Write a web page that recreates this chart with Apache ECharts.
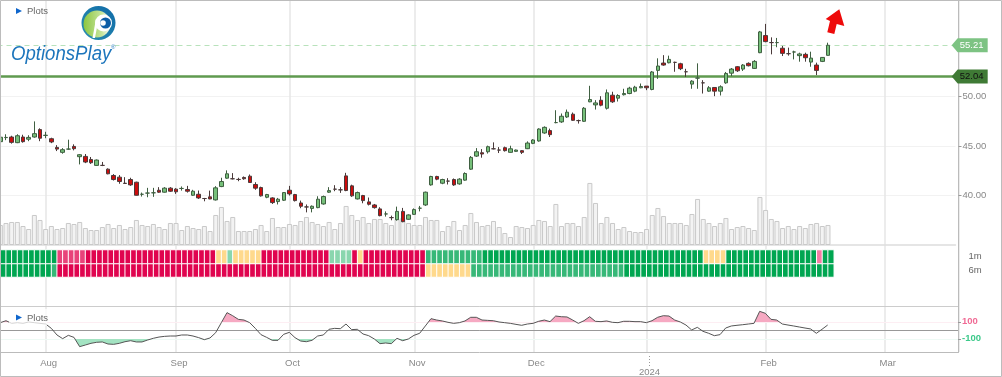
<!DOCTYPE html>
<html>
<head>
<meta charset="utf-8">
<title>OptionsPlay chart</title>
<script src="https://cdn.jsdelivr.net/npm/echarts@6/dist/echarts.min.js"></script>
<style>
  html, body { margin: 0; padding: 0; background: #fff; }
  #chart { width: 1002px; height: 377px; }
</style>
</head>
<body>
<div id="chart"></div>
<script>
// month ticks, as bar slots on the lower axis
var monthSlots = [8, 31, 51, 73, 94, 114, 135, 156];
var monthLabels = ['Aug', 'Sep', 'Oct', 'Nov', 'Dec', '2024', 'Feb', 'Mar'];

// candles: open, close, low, high
var candles = [
  [45.45,45.9,45.35,46.0],[45.86,45.88,45.6,46.2],[45.92,45.38,45.25,46.05],[45.35,46.05,45.3,46.2],[45.92,45.45,45.35,46.15],
  [45.7,45.88,45.5,46.1],[45.92,46.26,45.85,47.5],[46.67,45.8,45.5,46.8],[46.08,46.1,45.8,46.45],[45.75,45.42,45.3,45.85],
  [44.87,44.7,44.5,45.1],[44.37,44.64,44.23,44.8],[44.7,44.7,44.63,45.65],[44.97,44.74,44.57,45.18],[43.93,44.13,43.15,44.2],
  [43.96,43.39,43.28,44.2],[43.65,43.32,43.2,43.9],[43.05,43.59,43.0,43.65],[43.05,43.05,42.98,43.4],[42.67,42.2,42.15,42.75],
  [42.03,41.62,41.52,42.17],[41.86,41.42,41.19,42.07],[41.25,41.22,41.19,41.86],[41.62,41.08,40.98,41.8],[41.35,40.03,40.0,41.4],
  [40.13,40.13,39.9,40.3],[40.25,40.25,39.83,40.78],[40.28,40.28,39.87,40.78],[40.54,40.34,40.27,40.85],[40.34,40.75,40.3,40.85],
  [40.75,40.44,40.37,40.85],[40.65,40.38,40.17,40.75],[40.72,40.72,40.5,40.92],[40.61,40.44,40.3,40.98],[40.03,40.44,39.97,40.58],
  [40.13,39.76,39.66,40.51],[39.7,39.7,39.42,39.76],[39.87,39.66,39.63,40.5],[39.56,40.78,39.5,40.95],[40.91,41.42,40.85,41.8],
  [41.76,42.2,41.7,42.55],[41.7,41.7,41.63,42.27],[41.63,41.63,41.45,41.8],[41.83,41.7,41.6,41.93],[41.96,41.32,41.28,42.13],
  [41.12,40.75,40.58,41.35],[40.81,39.97,39.9,40.9],[39.83,40.1,39.73,40.17],[39.76,39.29,39.15,39.83],[39.39,39.63,39.1,39.76],
  [39.53,40.3,39.45,40.35],[40.54,40.17,40.0,40.98],[40.1,39.49,39.4,40.17],[39.25,38.92,38.72,39.49],[38.85,38.85,38.3,39.1],
  [38.7,38.92,38.3,39.0],[38.78,39.63,38.72,39.93],[39.15,39.9,39.08,40.0],[40.34,40.5,40.27,40.85],[40.65,40.64,40.44,41.05],
  [40.58,40.58,40.27,40.85],[41.99,40.51,40.44,42.3],[40.98,39.97,39.87,41.1],[39.66,40.3,39.6,40.4],[40.0,39.49,39.22,40.07],
  [39.36,39.12,39.0,39.8],[39.05,38.78,38.68,39.15],[38.65,37.97,37.9,38.82],[38.14,38.14,37.87,38.4],[37.77,37.77,37.5,37.97],
  [37.56,38.4,37.46,38.88],[38.4,37.36,37.3,38.75],[37.6,38.04,37.55,38.1],[38.1,38.58,38.05,38.7],[38.72,38.72,38.4,38.95],
  [39.05,40.34,38.95,40.4],[41.08,41.93,41.0,42.0],[41.93,41.66,41.55,42.0],[41.25,41.62,41.15,41.7],[41.46,41.46,41.12,41.76],
  [41.62,41.08,40.98,41.73],[41.18,41.66,41.1,41.76],[41.56,42.23,41.5,42.35],[42.67,43.86,42.6,44.0],[43.99,44.43,43.9,44.8],
  [44.33,44.2,43.83,44.7],[44.43,44.94,44.25,45.05],[44.73,44.73,44.67,45.38],[44.6,44.6,44.3,44.9],[44.84,44.54,44.45,44.95],
  [44.37,44.73,44.33,45.04],[44.47,44.6,44.43,44.65],[44.54,44.37,44.2,44.6],[44.74,45.31,44.7,45.48],[45.28,45.62,45.2,45.7],
  [45.52,46.73,45.45,46.8],[46.33,46.9,46.25,47.0],[46.57,46.16,45.92,46.77],[47.38,47.38,47.31,48.63],[47.45,48.02,47.35,48.3],
  [47.95,48.43,47.85,48.7],[48.23,47.61,47.55,48.4],[47.58,47.58,47.28,47.68],[47.51,48.83,47.45,48.95],[49.48,49.71,49.44,51.1],
  [49.17,49.37,48.7,49.65],[49.64,49.14,49.03,50.05],[48.83,50.39,48.7,50.73],[50.15,49.48,49.37,50.5],[49.85,50.12,49.51,50.25],
  [50.2,50.32,50.12,50.8],[50.32,50.86,50.25,51.0],[50.56,50.96,50.45,51.1],[50.9,51.03,50.86,51.33],[51.07,50.9,50.66,51.07],
  [50.73,52.5,50.65,52.6],[52.66,53.1,51.8,53.88],[53.4,53.2,53.13,54.2],[53.43,53.77,53.37,54.15],[53.47,53.47,52.52,53.54],
  [53.33,52.83,52.69,53.43],[52.52,52.52,52.0,52.82],[51.27,51.57,50.8,51.67],[51.88,51.88,50.8,53.37],[51.4,51.4,50.32,51.67],
  [50.56,50.9,50.49,51.07],[50.93,50.56,50.05,50.93],[50.56,51.0,50.12,51.15],[51.4,52.35,51.3,52.5],[52.38,52.79,52.08,52.9],
  [53.03,52.62,52.5,53.1],[52.79,53.2,52.6,53.3],[53.37,53.13,53.06,53.47],[52.86,53.57,52.8,53.7],[54.45,56.55,54.4,56.65],
  [56.18,55.57,55.5,57.36],[55.47,55.47,54.28,56.0],[55.47,55.47,55.0,55.94],[54.9,54.38,54.11,55.13],[54.35,54.35,54.15,54.96],
  [54.52,54.52,53.77,54.65],[54.15,54.32,53.54,54.45],[54.28,53.94,53.54,54.45],[53.5,53.9,53.03,54.55],[53.2,52.66,52.18,53.44],
  [53.57,53.97,53.5,54.0],[54.18,55.2,54.15,55.46]
];

var volumes = [
  20,22,23,23,19,16,30,25,16,19,16,17,22,21,23,17,15,15,18,21,17,20,16,18,25,20,19,21,18,16,
  22,22,15,19,17,16,19,14,30,38,24,28,14,14,14,16,20,14,27,18,18,21,20,24,28,23,21,19,23,16,
  22,39,30,25,28,22,26,26,22,20,26,27,22,20,20,28,25,25,14,19,24,15,20,32,23,19,20,24,18,12,
  8,19,18,17,20,25,24,19,41,19,22,22,19,28,62,42,22,28,22,16,18,14,13,13,16,30,37,29,22,22,
  22,20,31,46,26,22,19,22,27,16,18,19,17,15,48,35,26,24,17,19,16,19,17,21,22,19,20
];

// trend cells: 0 strong bear, 1 bear, 2 weak bear, 3 neutral, 4 weak bull, 5 bull, 6 strong bull
var trend1m = [
  6,6,6,6,6,6,6,6,6,6,1,1,1,1,1,0,0,0,0,0,0,0,0,0,0,0,0,0,0,0,0,0,0,0,0,0,0,0,3,3,
  4,3,3,3,3,3,0,0,0,0,0,0,0,0,0,0,0,0,4,4,4,4,0,3,0,0,0,0,0,0,0,0,0,0,0,5,5,5,5,5,
  5,5,5,5,5,6,6,6,6,6,6,6,6,6,6,6,6,6,6,6,6,6,6,6,6,6,6,6,6,6,6,6,6,6,6,6,6,6,6,6,
  6,6,6,6,3,3,3,3,6,6,6,6,6,6,6,6,6,6,6,6,6,6,6,6,2,6,6
];
var trend6m = [
  6,6,6,6,6,6,6,6,6,5,0,0,0,0,0,0,0,0,0,0,0,0,0,0,0,0,0,0,0,0,0,0,0,0,0,0,0,0,0,0,
  0,0,0,0,0,0,0,0,0,0,0,0,0,0,0,0,0,0,0,0,0,0,0,0,0,0,0,0,0,0,0,0,0,0,0,3,3,3,3,3,
  3,3,3,5,5,5,5,5,5,5,5,5,5,5,5,5,5,5,5,5,5,5,5,5,5,5,5,5,5,5,6,6,6,6,6,6,6,6,6,6,
  6,6,6,6,6,6,6,6,6,6,6,6,6,6,6,6,6,6,6,6,6,6,6,6,6,6,6
];
var trendColors = ['#e0044f', '#e8437a', '#f47ca4', '#ffd98c', '#8ad6ae', '#37b878', '#00a651'];

var cci = [
  90,113,82,90,82,98,90,82,74,23,-55,-98,-59,-83,-192,-173,-153,-141,-137,-161,
  -165,-153,-134,-122,-137,-137,-114,-94,-79,-71,-67,-67,-55,-55,-67,-86,-110,-90,-28,90,
  208,172,129,121,90,23,-51,-83,-118,-118,-47,-24,-86,-126,-134,-118,-67,-55,12,23,
  19,74,8,12,-43,-63,-102,-157,-149,-157,-94,-122,-102,-59,-35,51,137,121,110,94,
  82,90,110,153,153,121,117,113,98,90,82,70,59,74,82,106,121,102,168,160,
  157,121,82,113,160,106,102,110,94,90,106,106,102,102,90,113,153,172,168,121,
  98,62,4,35,-12,-35,-63,-51,27,51,59,66,74,82,223,200,129,121,74,62,
  51,39,27,16,-35,12,62
];

var lastPrice = 55.21;
var supportPrice = 52.04;
var priceTicks = [40, 45, 50];
var cciTicks = [100, -100];

var slots = [];
for (var i = 0; i < 169; i++) slots.push(String(i));
var cciSlots = slots.concat(['169']);

var heatData = [];
trend6m.forEach(function (v, i) { heatData.push([i, 0, v]); });
trend1m.forEach(function (v, i) { heatData.push([i, 1, v]); });

function isMonth(index) { return monthSlots.indexOf(index) >= 0; }

function tag(value, fill, textColor) {
  return {
    coord: [168, value],
    symbol: 'path://M0,7 L6,0 L36,0 L36,14 L6,14 Z',
    symbolSize: [36, 14],
    symbolOffset: [17, 0],
    itemStyle: { color: fill },
    label: {
      show: true, position: 'inside', offset: [2, 0], formatter: value.toFixed(2),
      color: textColor, fontSize: 9.5, fontFamily: 'Liberation Sans'
    }
  };
}

var chart = echarts.init(document.getElementById('chart'));
chart.setOption({
  animation: false,
  backgroundColor: '#fff',
  textStyle: { fontFamily: 'Liberation Sans' },
  grid: [
    // frame: month grid lines and labels
    { left: 0.5, top: 1, width: 958, height: 351, outerBoundsMode: 'none' },
    // price + volume
    { left: -2.5, top: -2.2, width: 958, height: 247.2, outerBoundsMode: 'none' },
    // trend cells
    { left: 0.5, top: 250, width: 958, height: 27, outerBoundsMode: 'none' },
    // cci
    { left: 0.33, top: 306, width: 957.67, height: 46, outerBoundsMode: 'none' }
  ],
  xAxis: [
    {
      gridIndex: 0, type: 'category', data: slots,
      axisLine: { lineStyle: { color: '#bbb', width: 1 } },
      axisTick: { alignWithLabel: true, interval: function (i) { return isMonth(i); }, length: 4, lineStyle: { color: '#888' } },
      splitLine: { show: true, interval: function (i) { return isMonth(i); }, lineStyle: { color: '#e6e6e6', width: 1.5 } },
      axisLabel: {
        interval: function (i) { return isMonth(i); },
        margin: 6, color: '#888', fontSize: 9.5,
        formatter: function (v) {
          var t = monthLabels[monthSlots.indexOf(+v)];
          return t === '2024' ? '{y|' + t + '}' : t;
        },
        rich: { y: { padding: [9, 0, 0, 0], color: '#888', fontSize: 9.5 } }
      }
    },
    {
      gridIndex: 1, type: 'category', data: slots,
      axisLine: { show: true, lineStyle: { color: '#ddd', width: 1.5 } },
      axisTick: { show: false }, axisLabel: { show: false }, splitLine: { show: false }
    },
    {
      gridIndex: 2, type: 'category', data: slots,
      axisLine: { show: false }, axisTick: { show: false }, axisLabel: { show: false }, splitLine: { show: false }
    },
    {
      gridIndex: 3, type: 'category', data: cciSlots, boundaryGap: false,
      axisLine: { show: false }, axisTick: { show: false }, axisLabel: { show: false }, splitLine: { show: false }
    }
  ],
  yAxis: [
    {
      gridIndex: 0, type: 'value', position: 'right', min: 0, max: 1,
      axisLine: { show: true, lineStyle: { color: '#bbb', width: 1 } },
      axisTick: { show: false }, axisLabel: { show: false }, splitLine: { show: false }
    },
    {
      gridIndex: 1, type: 'value', position: 'right', offset: 3, min: 35, max: 60, interval: 5,
      axisLine: { show: false },
      axisTick: { show: true, length: 3, customValues: priceTicks, lineStyle: { color: '#999' } },
      splitLine: { show: true, lineStyle: { color: '#f2f2f2', width: 1 } },
      axisLabel: {
        customValues: priceTicks, margin: 4, color: '#888', fontSize: 9.5,
        formatter: function (v) { return v.toFixed(2); }
      }
    },
    {
      // volume sits on the same plot, bottom of it
      gridIndex: 1, type: 'value', min: 0, max: 247,
      axisLine: { show: false }, axisTick: { show: false }, axisLabel: { show: false }, splitLine: { show: false }
    },
    {
      gridIndex: 2, type: 'category', position: 'right', data: ['6m', '1m'],
      axisLine: { show: false }, axisTick: { show: false }, splitLine: { show: false },
      axisLabel: { margin: 10, color: '#666', fontSize: 9.5 }
    },
    {
      gridIndex: 3, type: 'value', position: 'right', min: -255, max: 286,
      axisLine: { show: false },
      axisTick: { show: true, length: 3, customValues: cciTicks, lineStyle: { color: '#999' } },
      splitLine: { show: false },
      axisLabel: {
        customValues: cciTicks, margin: 4, fontSize: 9.5, fontWeight: 'bold',
        color: function (v) { return +v > 0 ? '#f06a94' : '#3cc98a'; }
      }
    }
  ],
  visualMap: {
    show: false, type: 'piecewise', seriesIndex: 2, dimension: 2,
    pieces: trendColors.map(function (c, i) { return { value: i, color: c }; })
  },
  series: [
    {
      type: 'bar', xAxisIndex: 1, yAxisIndex: 2, data: volumes, barWidth: 5, silent: true, z: 2,
      itemStyle: { color: '#f3f3f3', borderColor: '#c9c9c9', borderWidth: 1 }
    },
    {
      type: 'candlestick', xAxisIndex: 1, yAxisIndex: 1, data: candles, barWidth: 4, z: 4,
      itemStyle: {
        color: '#76c07a', color0: '#cc0c0c',
        borderColor: '#3f5f41', borderColor0: '#4a3a3a', borderWidth: 1
      },
      markLine: {
        silent: true, symbol: 'none', label: { show: false }, z: 3,
        data: [
          { yAxis: lastPrice, lineStyle: { color: '#b8e2bb', type: [5, 4], width: 1 } },
          { yAxis: supportPrice, lineStyle: { color: '#5f9a4f', type: 'solid', width: 2.5 } }
        ]
      },
      markPoint: {
        silent: true, z: 8,
        data: [tag(lastPrice, '#7dc383', '#fff'), tag(supportPrice, '#3f7a35', '#111')]
      }
    },
    {
      type: 'heatmap', xAxisIndex: 2, yAxisIndex: 3, data: heatData, z: 3,
      itemStyle: { borderColor: '#fff', borderWidth: 1 }
    },
    {
      type: 'line', xAxisIndex: 3, yAxisIndex: 4, data: cci, symbol: 'none', z: 5,
      lineStyle: { color: '#555', width: 1 },
      areaStyle: {
        origin: 0, opacity: 1,
        color: new echarts.graphic.LinearGradient(0, 306, 0, 352, [
          { offset: 0, color: '#f6a9c2' }, { offset: 0.342, color: '#f6a9c2' },
          { offset: 0.342, color: 'rgba(255,255,255,0)' }, { offset: 0.715, color: 'rgba(255,255,255,0)' },
          { offset: 0.715, color: '#a3e3c2' }, { offset: 1, color: '#a3e3c2' }
        ], true)
      },
      markLine: {
        silent: true, symbol: 'none', label: { show: false },
        data: [
          { yAxis: 286, lineStyle: { color: '#ccc', type: 'solid', width: 1 } },
          { yAxis: 100, lineStyle: { color: '#fdeef3', type: 'solid', width: 1 } },
          { yAxis: -100, lineStyle: { color: '#eefaf5', type: 'solid', width: 1 } },
          { yAxis: 0, lineStyle: { color: '#999', type: 'solid', width: 1 } }
        ]
      }
    }
  ],
  graphic: [
    // page frame
    { type: 'rect', z: 20, shape: { x: 0.5, y: 0.5, width: 1001, height: 376 }, style: { fill: 'none', stroke: '#bcbcbc', lineWidth: 1 } },
    // dotted year tick
    { type: 'line', z: 20, shape: { x1: 649.5, y1: 356, x2: 649.5, y2: 367 }, style: { stroke: '#999', lineWidth: 1, lineDash: [1, 2] } },
    // target arrow
    { type: 'polygon', z: 20, shape: { points: [[839.3, 9.3], [844.3, 26], [836.7, 24], [834.3, 34], [827.3, 32.3], [830, 21], [825.7, 19]] }, style: { fill: '#ee0a0a' } },
    // plots toggles
    { type: 'polygon', z: 20, shape: { points: [[16, 8], [22, 11], [16, 14]] }, style: { fill: '#0f66cc' } },
    { type: 'text', z: 20, x: 27, y: 11.5, style: { text: 'Plots', fill: '#666', font: '9.5px Liberation Sans', textVerticalAlign: 'middle' } },
    { type: 'rect', z: 19, shape: { x: 9, y: 309, width: 38, height: 17 }, style: { fill: 'rgba(255,255,255,0.75)' } },
    { type: 'polygon', z: 20, shape: { points: [[16, 314.5], [22, 317.5], [16, 320.5]] }, style: { fill: '#0f66cc' } },
    { type: 'text', z: 20, x: 27, y: 318, style: { text: 'Plots', fill: '#666', font: '9.5px Liberation Sans', textVerticalAlign: 'middle' } },
    // logo
    {
      type: 'circle', z: 21, shape: { cx: 98.5, cy: 23, r: 17 },
      style: {
        fill: new echarts.graphic.LinearGradient(0, 1, 1, 0, [
          { offset: 0, color: '#2a8fb0' }, { offset: 1, color: '#0f6aa8' }
        ])
      }
    },
    {
      type: 'circle', z: 21, shape: { cx: 97, cy: 24, r: 13.5 },
      style: {
        fill: new echarts.graphic.LinearGradient(0, 0.5, 1, 0.5, [
          { offset: 0, color: '#8cc63f' }, { offset: 0.7, color: '#c8e6a0' }, { offset: 1, color: '#ffffff' }
        ])
      }
    },
    { type: 'circle', z: 22, shape: { cx: 103.5, cy: 23, r: 8.5 }, style: { fill: '#fff' } },
    { type: 'circle', z: 22, shape: { cx: 105.5, cy: 23, r: 5.5 }, style: { fill: '#0d5ea6' } },
    { type: 'circle', z: 22, shape: { cx: 103, cy: 23, r: 2.8 }, style: { fill: '#fff' } },
    { type: 'polygon', z: 22, shape: { points: [[96, 19], [98.5, 19], [95, 38], [92.5, 38]] }, style: { fill: '#fff' } },
    {
      type: 'text', z: 21, x: 11, y: 54, scaleX: 0.93,
      style: { text: 'OptionsPlay', fill: '#1c75bc', font: 'italic 20px Liberation Sans', textVerticalAlign: 'middle' }
    },
    { type: 'text', z: 21, x: 111, y: 47, style: { text: '\u00ae', fill: '#1c75bc', font: '6px Liberation Sans', textVerticalAlign: 'middle' } }
  ]
});
</script>
</body>
</html>
